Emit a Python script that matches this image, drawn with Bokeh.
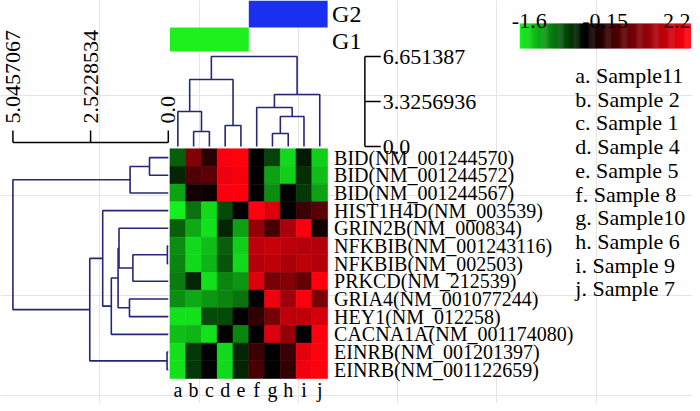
import numpy as np
from bokeh.plotting import figure
from bokeh.models import Range1d, LinearColorMapper, ColumnDataSource
from bokeh.transform import transform
from bokeh.core.properties import value
from bokeh.embed import file_html
from bokeh.resources import INLINE

# ---------------- data ----------------
samples = ["a", "b", "c", "d", "e", "f", "g", "h", "i", "j"]
sample_names = ["Sample11", "Sample 2", "Sample 1", "Sample 4", "Sample 5",
                "Sample 8", "Sample10", "Sample 6", "Sample 9", "Sample 7"]
genes = ["BID(NM_001244570)", "BID(NM_001244572)", "BID(NM_001244567)",
         "HIST1H4D(NM_003539)", "GRIN2B(NM_000834)", "NFKBIB(NM_001243116)",
         "NFKBIB(NM_002503)", "PRKCD(NM_212539)", "GRIA4(NM_001077244)",
         "HEY1(NM_012258)", "CACNA1A(NM_001174080)", "EINRB(NM_001201397)",
         "EINRB(NM_001122659)"]
heat = [
    [-0.72, 1.05, 0.22, 2.15, 2.20, -0.15, -0.55, -1.46, -0.32, -1.40],
    [-0.38, 0.59, 0.68, 2.06, 2.10, -0.15, -1.12, -1.40, -0.43, -1.29],
    [-1.12, 0.03, 0.00, 2.15, 2.18, -0.12, -1.00, -0.15, -0.49, -1.12],
    [-1.60, -0.83, -1.46, -0.60, -0.15, 2.20, 1.88, -0.15, 0.40, 0.68],
    [-0.72, -1.17, -1.51, -0.38, -1.12, 1.23, 0.50, 1.42, 2.15, 0.03],
    [-1.00, -1.46, -1.29, -0.72, -1.40, 1.60, 1.69, 1.60, 1.51, 1.51],
    [-0.95, -1.46, -1.23, -0.66, -1.46, 1.51, 1.60, 1.42, 1.60, 1.51],
    [-0.89, -0.38, -1.51, -0.95, -1.06, 1.88, 0.96, 1.05, 0.77, 2.20],
    [-1.00, -1.17, -1.06, -0.95, -0.83, -0.15, 2.06, 1.32, 2.15, 0.96],
    [-1.51, -1.51, -0.60, -0.60, -0.15, 0.31, 0.96, 1.60, 1.60, 1.79],
    [-1.29, -1.23, -1.51, -0.15, -0.95, -0.15, 1.88, 1.23, -0.15, 2.20],
    [-1.51, -0.49, -0.15, -1.46, -0.38, 0.40, -0.15, 0.40, 1.97, 2.20],
    [-1.51, -0.49, -0.15, -1.46, -0.38, 0.50, -0.12, 0.31, 2.06, 2.20],
]
cbar_ticks = [-1.6, -0.15, 2.2]
groups = ["G1", "G2"]
group_first = [0, 5]
group_last = [4, 9]

# column (sample) clustering: leaves 0..9, new nodes 10..
col_left = [6, 1, 3, 10, 0, 5, 15, 14, 17]
col_right = [7, 2, 4, 8, 11, 13, 9, 12, 16]
col_height = [0.96, 1.11, 1.55, 2.22, 2.59, 2.88, 3.84, 4.95, 6.651387]
col_ticks = [0.0, 3.3256936, 6.651387]

# row (gene) clustering: leaves 0..12, new nodes 13..
row_left = [5, 11, 0, 13, 15, 8, 4, 19, 20, 3, 22, 17]
row_right = [6, 12, 1, 7, 2, 9, 16, 18, 10, 21, 14, 23]
row_height = [0.03, 0.04, 0.61, 1.15, 1.24, 1.26, 1.60, 1.63, 1.85, 2.13, 2.55, 5.0457067]
row_ticks = [5.0457067, 2.5228534, 0.0]

# ---------------- layout (reference pixel frame) ----------------
X_LO, X_HI = 0, 697
Y_BOT, Y_TOP = 408, 5
FONT = value("Liberation Serif")
DEND = "#262678"


def lin_range(v0, p0, v1, p1, a, b):
    s = (v1 - v0) / (p1 - p0)
    return Range1d(start=v0 + (a - p0) * s, end=v0 + (b - p0) * s)


n_rows, n_cols = len(genes), len(samples)
vmin, vmax, vmid = cbar_ticks[0], cbar_ticks[2], cbar_ticks[1]

# palette green -> black -> red
palette = []
for f in np.linspace(0, 1, 256):
    v = vmin + f * (vmax - vmin)
    if v <= vmid:
        t = (vmid - v) / (vmid - vmin)
        palette.append("#%02x%02x%02x" % (int(20 * t), int(240 * t), int(30 * t)))
    else:
        t = (v - vmid) / (vmax - vmid)
        palette.append("#%02x%02x%02x" % (int(255 * t), 0, int(15 * t)))
mapper = LinearColorMapper(palette=palette, low=vmin, high=vmax)

p = figure(width=692, height=403, x_range=Range1d(X_LO, X_HI),
           y_range=Range1d(Y_BOT, Y_TOP), output_backend="svg",
           toolbar_location=None, min_border=0,
           x_axis_location=None, y_axis_location=None)
p.outline_line_color = None
p.background_fill_color = "white"
p.border_fill_color = "white"

p.extra_x_ranges = {
    "hx": lin_range(0, 170.7, n_cols, 329.5, X_LO, X_HI),
    "rx": lin_range(0, 169.0, row_ticks[0], 12.5, X_LO, X_HI),
}
p.extra_y_ranges = {
    "hy": lin_range(0, 153.3, n_rows, 383.0, Y_BOT, Y_TOP),
    "cy": lin_range(0, 151.0, col_ticks[-1], 61.0, Y_BOT, Y_TOP),
}

# ---------------- heatmap ----------------
hx_, hy_, hv_ = [], [], []
for r in range(n_rows):
    for c in range(n_cols):
        hx_.append(c + 0.5)
        hy_.append(r + 0.5)
        hv_.append(heat[r][c])
src = ColumnDataSource(dict(x=hx_, y=hy_, v=hv_))
p.rect(x="x", y="y", width=1, height=1, source=src,
       fill_color=transform("v", mapper), line_color=transform("v", mapper),
       line_width=0.6, x_range_name="hx", y_range_name="hy")


# ---------------- dendrograms ----------------
def dendro(n, left, right, height):
    pos = {i: i + 0.5 for i in range(n)}
    hgt = {i: 0.0 for i in range(n)}
    ps, hs = [], []
    for k, (l, r, h) in enumerate(zip(left, right, height)):
        ps.append([pos[l], pos[l], pos[r], pos[r]])
        hs.append([hgt[l], h, h, hgt[r]])
        pos[n + k] = (pos[l] + pos[r]) / 2
        hgt[n + k] = h
    return ps, hs


cps, chs = dendro(n_cols, col_left, col_right, col_height)
p.multi_line(xs=cps, ys=chs, line_color=DEND, line_width=1.6,
             x_range_name="hx", y_range_name="cy")
rps, rhs = dendro(n_rows, row_left, row_right, row_height)
p.multi_line(xs=rhs, ys=rps, line_color=DEND, line_width=1.6,
             x_range_name="rx", y_range_name="hy")

# column dendrogram scale (right)
AX_X, TK_X = 367, 383
p.segment(x0=[AX_X], x1=[AX_X], y0=[min(col_ticks)], y1=[max(col_ticks)],
          line_color="black", line_width=1.5, y_range_name="cy")
p.segment(x0=[AX_X] * 3, x1=[TK_X] * 3, y0=col_ticks, y1=col_ticks,
          line_color="black", line_width=1.5, y_range_name="cy")
p.text(x=[TK_X + 2] * 3, y=col_ticks, text=[str(t) for t in col_ticks],
       text_font=FONT, text_font_size=value("22px"), text_color="black",
       text_align="left", text_baseline="alphabetic", y_range_name="cy")

# row dendrogram scale (top-left)
AX_Y, TK_Y, LB_Y = 147, 135, 128
p.segment(x0=[max(row_ticks)], x1=[min(row_ticks)], y0=[AX_Y], y1=[AX_Y],
          line_color="black", line_width=1.5, x_range_name="rx")
p.segment(x0=row_ticks, x1=row_ticks, y0=[AX_Y] * 3, y1=[TK_Y] * 3,
          line_color="black", line_width=1.5, x_range_name="rx")
p.text(x=row_ticks, y=[LB_Y] * 3, text=[str(t) for t in row_ticks],
       angle=np.pi / 2, text_font=FONT, text_font_size=value("22px"),
       text_color="black", text_align="left", text_baseline="middle",
       x_range_name="rx")

# ---------------- group bars ----------------
g_top = [32, 5]
g_bot = [56, 32]
g_col = ["#1ef01e", "#1a30ee"]
p.quad(left=group_first, right=[g + 1 for g in group_last], top=g_top,
       bottom=g_bot, fill_color=g_col, line_color=None, x_range_name="hx")
p.text(x=[334, 334], y=[45, 18], text=groups, text_font=FONT,
       text_font_size=value("24px"), text_color="black",
       text_align="left", text_baseline="middle")

# ---------------- labels ----------------
p.text(x=[c + 0.5 for c in range(n_cols)], y=[394] * n_cols, text=samples,
       text_font=FONT, text_font_size=value("20px"), text_color="black",
       text_align="center", text_baseline="alphabetic", x_range_name="hx")
p.text(x=[336] * n_rows, y=[r + 0.5 for r in range(n_rows)], text=genes,
       text_font=FONT, text_font_size=value("20px"), text_color="black",
       text_align="left", text_baseline="middle", y_range_name="hy")
legend_txt = ["%s. %s" % (s, n) for s, n in zip(samples, sample_names)]
p.text(x=[579] * n_cols, y=[80 + 23.7 * i for i in range(n_cols)],
       text=legend_txt, text_font=FONT, text_font_size=value("22px"),
       text_color="black", text_align="left", text_baseline="middle")

# ---------------- colour bar ----------------
CB_L, CB_R, CB_T, CB_B = 523, 695, 28, 53
NSL = 160
cb_v = np.linspace(vmin, vmax, NSL)
edges = np.linspace(CB_L, CB_R, NSL + 1)
cb_src = ColumnDataSource(dict(l=edges[:-1], r=edges[1:] + 0.4, v=cb_v))
p.quad(left="l", right="r", top=CB_T, bottom=CB_B, source=cb_src,
       fill_color=transform("v", mapper), line_color=None)
p.text(x=[CB_L - 8, (CB_L + CB_R) / 2, CB_R], y=[25.5] * 3,
       text=[str(t) for t in cbar_ticks], text_font=FONT,
       text_font_size=value("22px"), text_color="black",
       text_align=["left", "center", "right"], text_baseline="alphabetic")

open("out.html", "w").write(file_html(p, INLINE))
